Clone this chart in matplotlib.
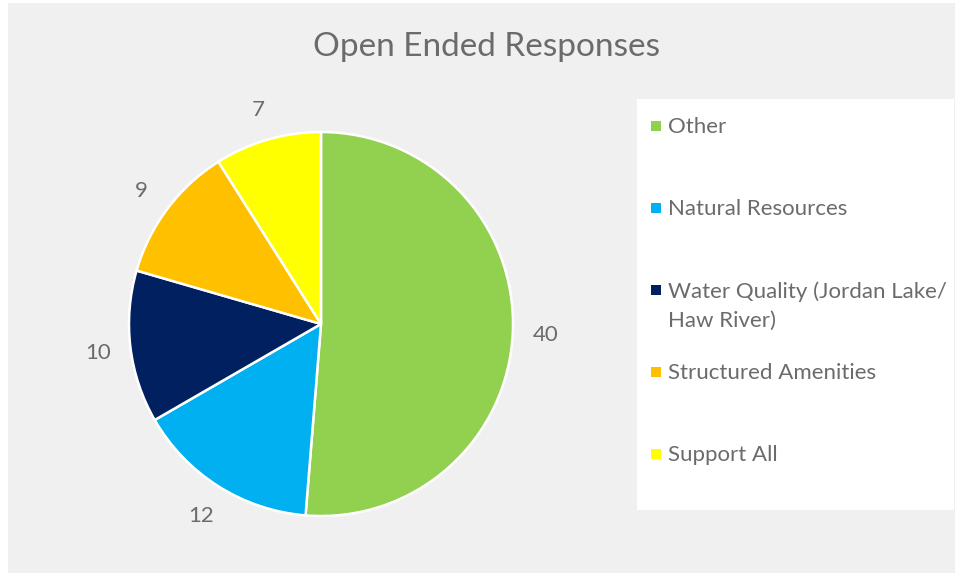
import matplotlib.pyplot as plt
from matplotlib.patches import Rectangle

# data
kategori = ['Other', 'Natural Resources', 'Water Quality (Jordan Lake/\nHaw River)',
            'Structured Amenities', 'Support All']
jumlah = [40, 12, 10, 9, 7]
warna = ['#92d050', '#00b0f0', '#002060', '#ffc000', '#ffff00']

W, H = 955, 575
abu_teks = '#6b6b6b'
plt.rcParams['font.family'] = ['Lato', 'DejaVu Sans']

fig = plt.figure(figsize=(W / 100, H / 100), dpi=100, facecolor='white')

def px(x, y):
    # koordinat piksel (dari kiri atas) -> koordinat figure
    return x / W, 1 - y / H

# latar abu-abu dan kotak legenda putih
fig.patches.append(Rectangle((8 / W, 1 - 573 / H), (W - 8) / W, 570 / H,
                             transform=fig.transFigure, facecolor='#f0f0f0',
                             edgecolor='none', zorder=-10))
fig.patches.append(Rectangle((637 / W, 1 - 510 / H), 317 / W, 411 / H,
                             transform=fig.transFigure, facecolor='white',
                             edgecolor='none', zorder=-5))

# judul
fig.text(*px(486, 47), 'Open Ended Responses', ha='center', va='center',
         fontsize=24, color=abu_teks)

# pie
cx, cy, r = 321, 324, 192
ax = fig.add_axes([(cx - r) / W, 1 - (cy + r) / H, 2 * r / W, 2 * r / H])
ax.set_zorder(1)
ax.patch.set_visible(False)
wedges, texts = ax.pie(jumlah, colors=warna, startangle=90, counterclock=False,
                       labels=[str(v) for v in jumlah], labeldistance=1.17,
                       wedgeprops=dict(edgecolor='white', linewidth=1.8),
                       textprops=dict(fontsize=16, color=abu_teks))
for t in texts:
    t.set_ha('center')
    t.set_va('center_baseline')
ax.set_xlim(-1, 1)
ax.set_ylim(-1, 1)
ax.set_aspect('equal')
ax.axis('off')

# legenda manual
y0, langkah = 126, 82
for i, (k, c) in enumerate(zip(kategori, warna)):
    y = y0 + i * langkah
    fig.patches.append(Rectangle((651 / W, 1 - (y + 5) / H), 10 / W, 10 / H,
                                 transform=fig.transFigure, facecolor=c,
                                 edgecolor='none', zorder=2))
    fig.text(*px(668, y - 9), k, ha='left', va='top', fontsize=16,
             color=abu_teks, linespacing=1.55, zorder=3)

fig.savefig('out.png', dpi=100)
